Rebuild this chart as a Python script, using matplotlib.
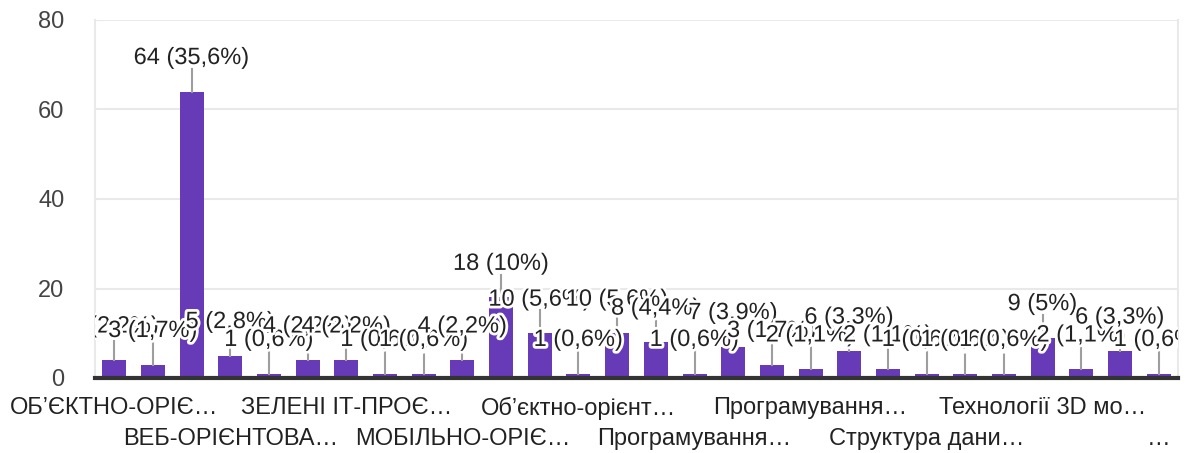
import matplotlib
matplotlib.use('agg')
import matplotlib.pyplot as plt
import matplotlib.patheffects as pe
import numpy as np

# counts per answer option (28 options, 180 answers total)
counts = [4, 3, 64, 5, 1, 4, 4, 1, 1, 4, 18, 10, 1, 10, 8, 1, 7, 3, 2, 6,
          2, 1, 1, 1, 9, 2, 6, 1]

# only every third option gets a visible (truncated) label
tick_labels = [
    "ОБ’ЄКТНО-ОРІЄ…",
    "ВЕБ-ОРІЄНТОВА…",
    "ЗЕЛЕНІ ІТ-ПРОЄ…",
    "МОБІЛЬНО-ОРІЄ…",
    "Об’єктно-орієнт…",
    "Програмування…",
    "Програмування…",
    "Структура дани…",
    "Технології 3D мо…",
    "…",
]
y_ticks = [0, 20, 40, 60, 80]

plt.rcParams['font.family'] = ['Liberation Sans', 'DejaVu Sans']

total = sum(counts)
x = np.arange(len(counts))

fig = plt.figure(figsize=(11.88, 4.53), dpi=100)
ax = fig.add_axes([95 / 1188, 75 / 453, (1178 - 95) / 1188, (378 - 20) / 453])

ax.bar(x, counts, width=0.62, color='#673ab7', zorder=2)

ax.set_xlim(-0.5, len(counts) - 0.5)
ax.set_ylim(0, 80)
ax.set_yticks(y_ticks)
ax.tick_params(axis='y', length=0, labelsize=17, labelcolor='#444444', pad=22)
ax.yaxis.grid(True, color='#e9e9e9', lw=1.5, zorder=0)
ax.set_axisbelow(True)

for s in ['left', 'right']:
    ax.spines[s].set_color('#e9e9e9')
    ax.spines[s].set_linewidth(1.5)
ax.spines['top'].set_visible(False)
ax.spines['bottom'].set_color('#333333')
ax.spines['bottom'].set_linewidth(3)
ax.spines['bottom'].set_zorder(5)

# x labels, two staggered rows
ax.set_xticks([])
for i, lab in enumerate(tick_labels):
    pos = i * 3
    dy = -0.085 if i % 2 == 0 else -0.17
    ax.text(pos, dy, lab, transform=ax.get_xaxis_transform(), ha='center',
            va='center', fontsize=17, color='#222222')

# value labels with leader lines
halo = [pe.withStroke(linewidth=4, foreground='white')]
for xi, v in zip(x, counts):
    pct = round(v / total * 100, 1)
    ps = ('%g' % pct).replace('.', ',')
    ly = max(v + 7.5, 8.5)
    ax.plot([xi, xi], [v, ly - 2.4], color='#9e9e9e', lw=1.5, zorder=3)
    ax.text(xi, ly, f"{v} ({ps}%)", ha='center', va='center', fontsize=17,
            color='#222222', path_effects=halo, zorder=4, clip_on=True)

fig.savefig('out.png', dpi=100)
